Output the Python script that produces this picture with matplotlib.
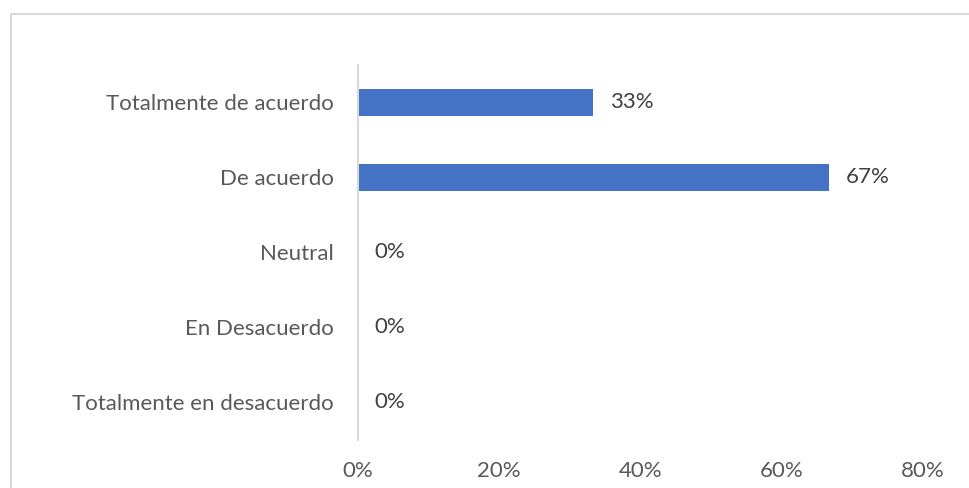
import matplotlib.pyplot as plt
from matplotlib.patches import Rectangle

categorias = ['Totalmente de acuerdo', 'De acuerdo', 'Neutral',
              'En Desacuerdo', 'Totalmente en desacuerdo']
porcentajes = [33.33, 66.67, 0, 0, 0]
ticks_x = [0, 20, 40, 60, 80]

plt.rcParams['font.family'] = ['Lato', 'DejaVu Sans']
gris = '#595959'
fs = 16

fig = plt.figure(figsize=(9.69, 4.88), dpi=100)
ax = fig.add_axes([0.369, 0.0984, 0.5835, 0.7684])

y_pos = list(range(len(categorias)))
ax.barh(y_pos, porcentajes, height=0.36, color='#4472C4')
ax.set_ylim(len(categorias) - 0.5, -0.5)
ax.set_xlim(0, 80)

ax.set_yticks(y_pos)
ax.set_yticklabels(categorias, fontsize=fs, color=gris)
ax.set_xticks(ticks_x)
ax.set_xticklabels([f'{t}%' for t in ticks_x], fontsize=fs, color=gris)
ax.tick_params(axis='y', length=0, pad=17)
ax.tick_params(axis='x', length=0, pad=15)

for s in ['top', 'right', 'bottom']:
    ax.spines[s].set_visible(False)
ax.spines['left'].set_color('#d9d9d9')
ax.spines['left'].set_linewidth(1.5)

for y, v in zip(y_pos, porcentajes):
    ax.annotate(f'{round(v)}%', (v, y), xytext=(12, 0), textcoords='offset points',
                va='center', ha='left', fontsize=fs, color='#404040')

# marco del gráfico
fig.patches.append(Rectangle((11 / 969, -0.1), 1.2, 1 - 14 / 488 + 0.1,
                             transform=fig.transFigure, fill=False,
                             edgecolor='#d9d9d9', linewidth=1.5))

fig.savefig('out.png', dpi=100)
